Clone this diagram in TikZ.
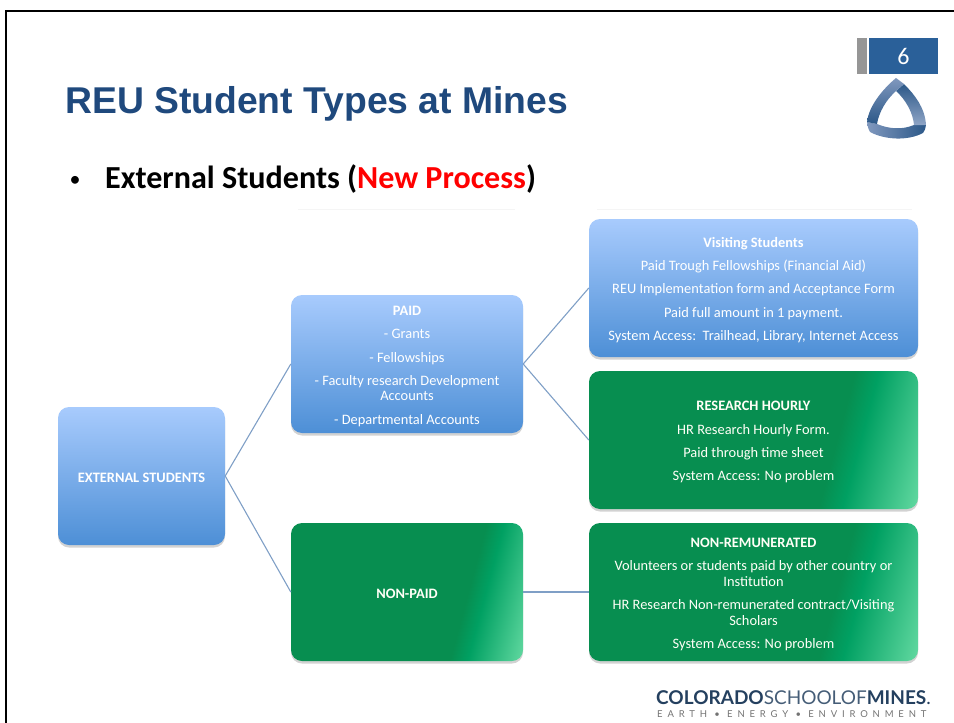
\documentclass[tikz,border=0pt]{standalone}
\usepackage{fontspec}
\setmainfont{Carlito}
\newfontfamily\titlefont{Liberation Sans}
\newfontfamily\footfont{Lato}
\usetikzlibrary{shadows}
\definecolor{blueT}{HTML}{A8CBFD}
\definecolor{blueB}{HTML}{4D8FD6}
\definecolor{greenA}{HTML}{078E50}
\definecolor{greenB}{HTML}{00A062}
\definecolor{greenC}{HTML}{64DAA2}
\definecolor{conn}{HTML}{7F9FC6}
\definecolor{titleblue}{HTML}{1F497D}
\definecolor{pageblue}{HTML}{2A6099}
\definecolor{footdark}{HTML}{24405F}
\definecolor{logolight}{HTML}{8098BE}
\definecolor{logopale}{HTML}{8FA5C6}
\definecolor{logodark}{HTML}{2C5888}
\pgfdeclarehorizontalshading{greenfade}{100bp}{color(0bp)=(greenA); color(64bp)=(greenA); color(68bp)=(greenB); color(81bp)=(greenC); color(100bp)=(greenC)}
\tikzset{
  x=1pt,y=-1pt,
  softshadow/.style={drop shadow={shadow xshift=0pt,shadow yshift=-2.5pt,opacity=.25,fill=black!70}},
  card/.style={rectangle,rounded corners=11pt,anchor=center,inner sep=0pt,align=center,text=white,softshadow,
    font=\fontsize{14.4}{15.6}\selectfont},
  bluecard/.style={card,top color=blueT,bottom color=blueB},
  greencard/.style={card,shading=greenfade,shading angle=-15,text=white!97!yellow},
  link/.style={draw=conn,line width=1.1pt},
}
\newcommand{\gapline}{\\[7.7pt]}
\newcommand{\topfix}{\rule{0pt}{14pt}}
\begin{document}
\begin{tikzpicture}
\useasboundingbox (0,0) rectangle (954,723);
% slide frame
\draw[line width=2pt,black] (6,723) -- (6,11) -- (954,11);
% page number
\fill[black!41] (857,38) rectangle (867,74);
\node[fill=pageblue,minimum width=69pt,minimum height=36pt,inner sep=0pt,text=white,
      font=\fontsize{24}{26}\selectfont] (pagenum) at (903.5,56) {6};
% logo
\path[left color=logolight,right color=logodark]
  (867,122) .. controls (868,128) .. (870,132) .. controls (885,140) and (908,141) .. (923,133)
  .. controls (925,130) .. (926,125) -- (914,125) .. controls (902,130) and (889,129) .. (877,124) -- cycle;
\path[top color=logodark,bottom color=logopale]
  (904,84) .. controls (915,95) and (925,108) .. (926,125) -- (914,125)
  .. controls (913,113) and (906,100) .. (896,91) -- cycle;
\path[top color=logolight,bottom color=logodark]
  (896,78) .. controls (884,88) and (869,105) .. (867,122) -- (877,124)
  .. controls (879,112) and (886,100) .. (896,91) -- (904,84) -- cycle;
% heading texts
\node[anchor=base west,inner sep=0pt,text=titleblue,font=\titlefont\bfseries\fontsize{37.3}{40}\selectfont] (title) at (65,113) {REU Student Types at Mines};
\node[anchor=base,inner sep=0pt,font=\fontsize{22}{24}\selectfont] (bullet) at (75,186) {•};
\node[anchor=base west,inner sep=0pt,font=\bfseries\fontsize{32.1}{34}\selectfont] (sub) at (105,188) {External Students (\textcolor{red}{New Process})};
% faint rules
\draw[black!4,line width=.8pt] (298,209) -- (515,209) (597,209) -- (912,209);
% cards
\node[bluecard,minimum width=167pt,minimum height=138pt] (ext) at (141.5,476) {\topfix\textbf{EXTERNAL STUDENTS}};
\node[bluecard,minimum width=232pt,minimum height=138pt] (paid) at (407,364) {\topfix\textbf{PAID}\gapline - Grants\gapline - Fellowships\gapline - Faculty research Development\\Accounts\gapline - Departmental Accounts};
\node[greencard,minimum width=232pt,minimum height=138pt] (nonpaid) at (407,592) {\topfix\textbf{NON-PAID}};
\node[bluecard,minimum width=329pt,minimum height=138pt] (visit) at (753.5,288) {\topfix\textbf{Visiting Students}\gapline Paid Trough Fellowships (Financial Aid)\gapline REU Implementation form and Acceptance Form\gapline Paid full amount in 1 payment.\gapline System Access:\ \ Trailhead, Library, Internet Access};
\node[greencard,minimum width=329pt,minimum height=138pt] (hourly) at (753.5,440) {\topfix\textbf{RESEARCH HOURLY}\gapline HR Research Hourly Form.\gapline Paid through time sheet\gapline System Access: No problem};
\node[greencard,minimum width=329pt,minimum height=138pt] (nonrem) at (753.5,592) {\topfix\textbf{NON-REMUNERATED}\gapline Volunteers or students paid by other country or\\Institution\gapline HR Research Non-remunerated contract/Visiting\\Scholars\gapline System Access: No problem};
% connectors
\draw[link] (ext.east) -- (paid.west);
\draw[link] (ext.east) -- (nonpaid.west);
\draw[link] (paid.east) -- (visit.west);
\draw[link] (paid.east) -- (hourly.west);
\draw[link] (nonpaid.east) -- (nonrem.west);
% footer
\node[anchor=base west,inner sep=0pt,text=footdark,font=\footfont\fontsize{19}{22}\selectfont] (school) at (656,704) {\textbf{COLORADO}\textcolor{footdark!85}{SCHOOLOF}\textbf{MINES}.};
\node[anchor=base west,inner sep=0pt,text=black!55,font=\footfont\addfontfeature{LetterSpace=51}\fontsize{9.5}{11}\selectfont] (tag) at (657,717) {EARTH • ENERGY • ENVIRONMENT};
\end{tikzpicture}
\end{document}
